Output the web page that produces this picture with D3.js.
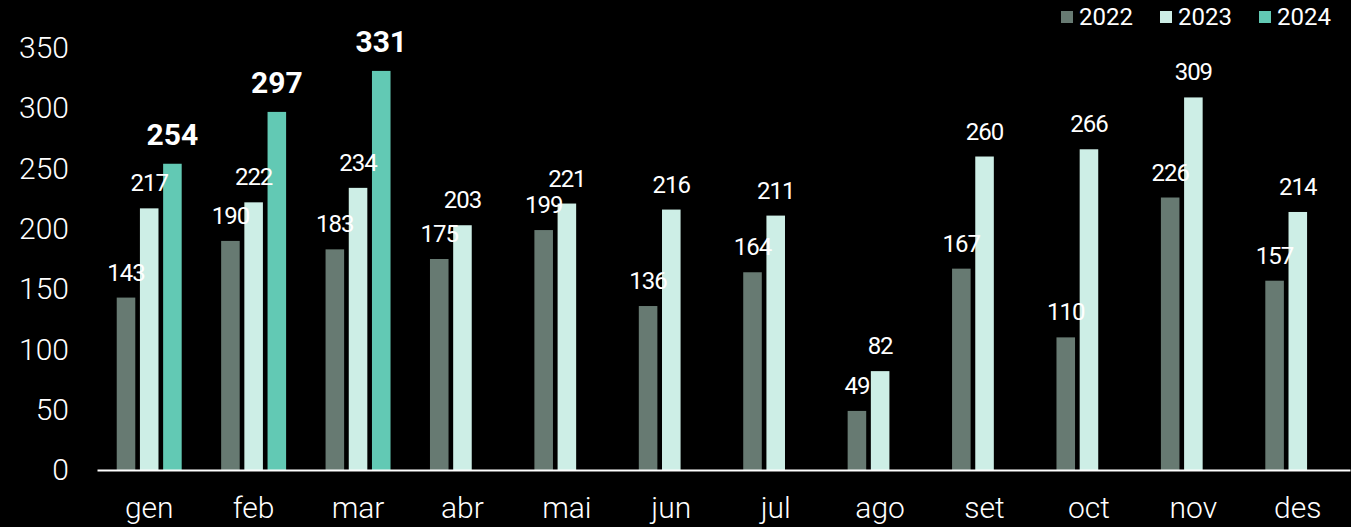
<!DOCTYPE html>
<html>
<head>
<meta charset="utf-8">
<script src="https://cdn.jsdelivr.net/npm/d3@7"></script>
<style>
  body { margin: 0; background: #000; }
  svg { display: block; font-family: Roboto, "Liberation Sans", sans-serif; }
</style>
</head>
<body>
<div class="chart"></div>
<script>
// months (catalan) and series per year
var months = ["gen", "feb", "mar", "abr", "mai", "jun", "jul", "ago", "set", "oct", "nov", "des"];
var years = ["2022", "2023", "2024"];
var values2022 = [143, 190, 183, 175, 199, 136, 164, 49, 167, 110, 226, 157];
var values2023 = [217, 222, 234, 203, 221, 216, 211, 82, 260, 266, 309, 214];
var values2024 = [254, 297, 331, null, null, null, null, null, null, null, null, null];
var yTicks = [0, 50, 100, 150, 200, 250, 300, 350];
var colors = ["#677a72", "#cdeee6", "#62c9b4"];

var svgWidth = 1351;
var svgHeight = 527;

var svg = d3.select(".chart")
  .append("svg")
  .attr("width", svgWidth)
  .attr("height", svgHeight);

svg.append("rect")
  .attr("width", svgWidth)
  .attr("height", svgHeight)
  .attr("fill", "#000");

// build rows from the arrays
var series = [values2022, values2023, values2024];
var rows = [];
months.forEach(function(m, i) {
  years.forEach(function(y, j) {
    if (series[j][i] != null) rows.push({ month: m, year: y, value: series[j][i] });
  });
});

// scales
var x0 = d3.scaleBand()
  .domain(months)
  .range([97, 1350])
  .padding(0);

var x1 = d3.scaleBand()
  .domain(years)
  .range([0, x0.bandwidth()])
  .paddingInner(0.2)
  .paddingOuter(0.85);

var yScale = d3.scaleLinear()
  .domain([0, 350])
  .range([470, 48]);

var color = d3.scaleOrdinal().domain(years).range(colors);

// y axis labels only
var yAxis = d3.axisLeft(yScale).tickValues(yTicks).tickSize(0).tickPadding(0);
var yG = svg.append("g")
  .attr("transform", "translate(69,0)")
  .call(yAxis);
yG.select(".domain").remove();
yG.selectAll("text")
  .attr("fill", "#fff")
  .attr("font-size", "30px")
  .attr("font-weight", 300)
  .attr("font-family", "Roboto, sans-serif");

// bars
svg.append("g").selectAll("rect")
  .data(rows)
  .enter()
  .append("rect")
  .attr("x", d => x0(d.month) + x1(d.year))
  .attr("y", d => yScale(d.value))
  .attr("width", x1.bandwidth())
  .attr("height", d => yScale(0) - yScale(d.value))
  .attr("fill", d => color(d.year));

// x axis
var xAxis = d3.axisBottom(x0).tickSize(0).tickPadding(0);
var xG = svg.append("g")
  .attr("transform", "translate(0,470)")
  .call(xAxis);
xG.select(".domain")
  .attr("stroke", "#fff")
  .attr("stroke-width", 2);
xG.selectAll("text")
  .attr("fill", "#fff")
  .attr("font-size", "30px")
  .attr("font-weight", 300)
  .attr("font-family", "Roboto, sans-serif")
  .attr("dy", "1.6em");

// value labels
svg.append("g").selectAll("text")
  .data(rows)
  .enter()
  .append("text")
  .attr("x", d => x0(d.month) + x1(d.year) + x1.bandwidth() / 2)
  .attr("y", d => yScale(d.value) - (d.year === "2024" ? 19 : 17))
  .attr("text-anchor", "middle")
  .attr("fill", "#fff")
  .attr("font-size", d => d.year === "2024" ? "30px" : "24px")
  .attr("font-weight", d => d.year === "2024" ? 700 : 400)
  .attr("letter-spacing", d => d.year === "2024" ? "0px" : "-1px")
  .text(d => d.value);

// legend
var legend = svg.append("g").selectAll("g")
  .data(years)
  .enter()
  .append("g")
  .attr("transform", (d, i) => `translate(${1061 + i * 99}, 0)`);

legend.append("rect")
  .attr("y", 11)
  .attr("width", 12)
  .attr("height", 12)
  .attr("fill", d => color(d));

legend.append("text")
  .attr("x", 18)
  .attr("y", 25)
  .attr("fill", "#fff")
  .attr("font-size", "24px")
  .text(d => d);
</script>
</body>
</html>
